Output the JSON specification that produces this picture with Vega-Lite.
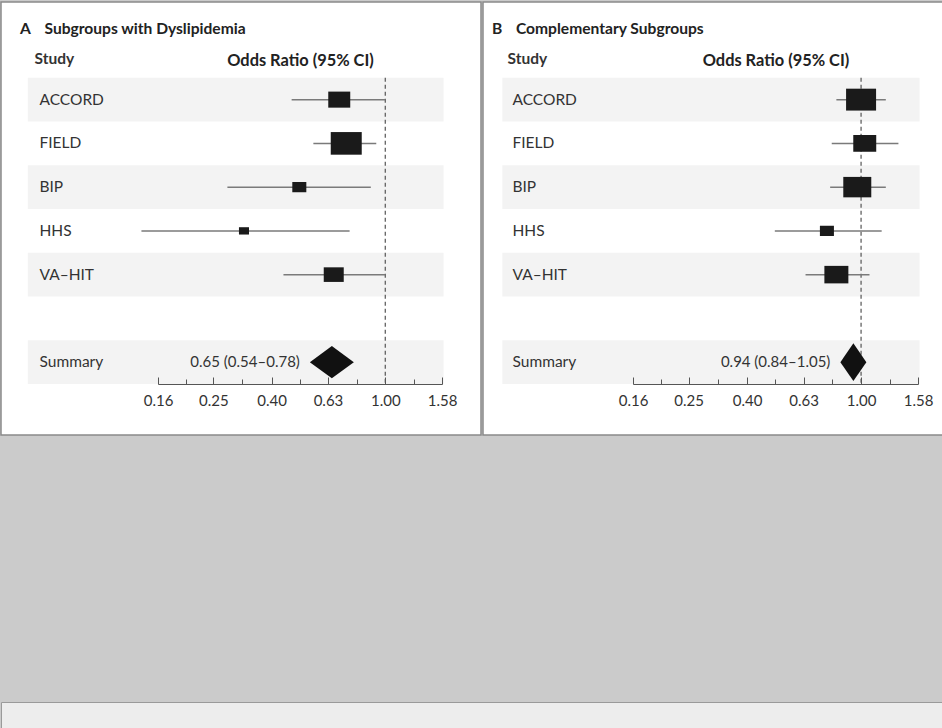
{
  "$schema": "https://vega.github.io/schema/vega-lite/v6.json",
  "background": "#cbcbcb",
  "padding": {"left": 0, "top": 1, "right": 0, "bottom": 0},
  "spacing": 265,
  "config": {
    "font": "Lato",
    "view": {"fill": "white", "stroke": "#8a8a8a", "strokeWidth": 1.5}
  },
  "vconcat": [
    {
      "spacing": 0,
      "resolve": {"scale": {"x": "independent", "y": "independent", "size": "independent"}},
      "hconcat": [
        {
          "width": 480,
          "height": 433,
          "title": {"text": "A\u2003\u2009Subgroups with Dyslipidemia", "anchor": "start", "frame": "group", "offset": -36, "dx": 19, "fontSize": 15.6, "fontWeight": "bold", "color": "#222222", "font": "Lato"},
          "data": {"values": [
            {"study": "ACCORD", "or": 0.69, "lo": 0.47, "hi": 1.00, "weight": 22.6},
            {"study": "FIELD", "or": 0.73, "lo": 0.56, "hi": 0.93, "weight": 44.9},
            {"study": "BIP", "or": 0.50, "lo": 0.28, "hi": 0.89, "weight": 9.2},
            {"study": "HHS", "or": 0.32, "lo": 0.14, "hi": 0.75, "weight": 4.7},
            {"study": "VA–HIT", "or": 0.66, "lo": 0.44, "hi": 1.00, "weight": 18.7},
            {"study": "gap"},
            {"study": "Summary", "or": 0.65, "lo": 0.54, "hi": 0.78, "label": "0.65 (0.54–0.78)"}
          ]},
          "resolve": {"axis": {"x": "independent"}},
          "layer": [
            {
              "transform": [{"filter": {"field": "study", "oneOf": ["ACCORD", "BIP", "VA–HIT", "Summary"]}}],
              "mark": {"type": "bar", "color": "#f3f3f3"},
              "encoding": {
                "y": {"field": "study", "type": "nominal",
                  "scale": {"domain": ["Study", "ACCORD", "FIELD", "BIP", "HHS", "VA–HIT", "gap", "Summary"], "range": [32, 382], "paddingInner": 0, "paddingOuter": 0},
                  "axis": {"orient": "left", "offset": -38, "zindex": 2, "title": null, "domain": false, "ticks": false, "tickSize": 0, "grid": false,
                    "labelAlign": "left", "labelFontSize": 15.5, "labelColor": "#333333", "labelFont": "Lato",
                    "labelExpr": "datum.value === 'gap' ? '' : datum.value",
                    "labelFontWeight": {"condition": {"test": "datum.value === 'Study'", "value": "bold"}, "value": "normal"},
                    "labelPadding": {"condition": {"test": "datum.value === 'Study'", "value": 5}, "value": 0},
                    "labelOffset": {"condition": {"test": "datum.value === 'Study'", "value": 3}, "value": 0}}},
                "x": {"datum": 0.056, "type": "quantitative",
                  "scale": {"type": "log", "domain": [0.16, 1.58], "range": [157, 441], "nice": false, "zero": false},
                  "axis": {"orient": "bottom", "offset": -51, "zindex": 2, "title": null, "grid": false, "domainColor": "#555555", "tickColor": "#555555",
                    "values": [0.16, 0.2, 0.25, 0.316, 0.4, 0.502, 0.63, 0.794, 1.0, 1.257, 1.58],
                    "labelExpr": "indexof([0.16,0.25,0.4,0.63,1,1.58], datum.value) >= 0 ? format(datum.value, '.2f') : ''",
                    "labelOverlap": false, "labelFlush": false, "labelFontSize": 15, "labelColor": "#333333", "labelFont": "Lato", "labelPadding": 16,
                    "tickSize": {"condition": {"test": "indexof([0.16,0.25,0.4,0.63,1,1.58], datum.value) >= 0", "value": -7}, "value": -5}}},
                "x2": {"datum": 1.6}
              }
            },
            {
              "transform": [{"filter": "datum.study === 'Summary'"}],
              "mark": {"type": "rule", "strokeDash": [4, 3], "color": "#555555", "strokeWidth": 1.2},
              "encoding": {
                "x": {"datum": 1, "type": "quantitative", "scale": {"type": "log", "domain": [0.16, 1.58], "range": [157, 441], "nice": false, "zero": false}, "axis": null},
                "y": {"datum": "ACCORD", "type": "nominal", "bandPosition": 0},
                "y2": {"datum": "Summary", "bandPosition": 1}
              }
            },
            {
              "transform": [{"filter": "isValid(datum.lo) && datum.study !== 'Summary'"}],
              "mark": {"type": "rule", "color": "#7a7a7a", "strokeWidth": 1.5},
              "encoding": {
                "x": {"field": "lo", "type": "quantitative", "scale": {"type": "log", "domain": [0.16, 1.58], "range": [157, 441], "nice": false, "zero": false},
                  "axis": {"orient": "top", "offset": -66, "title": "Odds Ratio (95% CI)", "titlePadding": 0, "labels": false, "ticks": false, "domain": false, "grid": false,
                    "titleFontSize": 16.4, "titleFontWeight": "bold", "titleColor": "#222222", "titleFont": "Lato"}},
                "x2": {"field": "hi"},
                "y": {"field": "study", "type": "nominal"}
              }
            },
            {
              "transform": [{"filter": "isValid(datum.weight)"}],
              "mark": {"type": "point", "shape": "M-1,-0.73L1,-0.73L1,0.73L-1,0.73Z", "filled": true, "color": "#1a1a1a", "opacity": 1, "strokeWidth": 0},
              "encoding": {
                "x": {"field": "or", "type": "quantitative", "scale": {"type": "log", "domain": [0.16, 1.58], "range": [157, 441], "nice": false, "zero": false}, "axis": null},
                "y": {"field": "study", "type": "nominal"},
                "size": {"field": "weight", "type": "quantitative", "scale": {"domain": [0, 100], "range": [0, 2140]}, "legend": null}
              }
            },
            {
              "transform": [{"filter": "datum.study === 'Summary'"}],
              "mark": {"type": "point", "shape": "M-1,0L0,-0.73L1,0L0,0.73Z", "size": 1936, "filled": true, "color": "#111111", "opacity": 1, "strokeWidth": 0},
              "encoding": {
                "x": {"field": "or", "type": "quantitative", "scale": {"type": "log", "domain": [0.16, 1.58], "range": [157, 441], "nice": false, "zero": false}, "axis": null},
                "y": {"field": "study", "type": "nominal"}
              }
            },
            {
              "transform": [{"filter": "datum.study === 'Summary'"}],
              "mark": {"type": "text", "align": "right", "dx": -9, "fontSize": 15, "color": "#333333", "font": "Lato"},
              "encoding": {
                "x": {"field": "lo", "type": "quantitative", "scale": {"type": "log", "domain": [0.16, 1.58], "range": [157, 441], "nice": false, "zero": false}, "axis": null},
                "y": {"field": "study", "type": "nominal"},
                "text": {"field": "label"}
              }
            }
          ]
        },
        {
          "width": 460,
          "height": 433,
          "title": {"text": "B\u2003\u2009Complementary Subgroups", "anchor": "start", "frame": "group", "offset": -36, "dx": 9, "fontSize": 15.6, "fontWeight": "bold", "color": "#222222", "font": "Lato"},
          "data": {"values": [
            {"study": "ACCORD", "or": 1.00, "lo": 0.82, "hi": 1.22, "weight": 30.2},
            {"study": "FIELD", "or": 1.03, "lo": 0.79, "hi": 1.35, "weight": 17.7},
            {"study": "BIP", "or": 0.97, "lo": 0.78, "hi": 1.22, "weight": 26.3},
            {"study": "HHS", "or": 0.76, "lo": 0.50, "hi": 1.18, "weight": 6.6},
            {"study": "VA–HIT", "or": 0.82, "lo": 0.64, "hi": 1.07, "weight": 19.3},
            {"study": "gap"},
            {"study": "Summary", "or": 0.94, "lo": 0.84, "hi": 1.05, "label": "0.94 (0.84–1.05)"}
          ]},
          "resolve": {"axis": {"x": "independent"}},
          "layer": [
            {
              "transform": [{"filter": {"field": "study", "oneOf": ["ACCORD", "BIP", "VA–HIT", "Summary"]}}],
              "mark": {"type": "bar", "color": "#f3f3f3"},
              "encoding": {
                "y": {"field": "study", "type": "nominal",
                  "scale": {"domain": ["Study", "ACCORD", "FIELD", "BIP", "HHS", "VA–HIT", "gap", "Summary"], "range": [32, 382], "paddingInner": 0, "paddingOuter": 0},
                  "axis": {"orient": "left", "offset": -29, "zindex": 2, "title": null, "domain": false, "ticks": false, "tickSize": 0, "grid": false,
                    "labelAlign": "left", "labelFontSize": 15.5, "labelColor": "#333333", "labelFont": "Lato",
                    "labelExpr": "datum.value === 'gap' ? '' : datum.value",
                    "labelFontWeight": {"condition": {"test": "datum.value === 'Study'", "value": "bold"}, "value": "normal"},
                    "labelPadding": {"condition": {"test": "datum.value === 'Study'", "value": 5}, "value": 0},
                    "labelOffset": {"condition": {"test": "datum.value === 'Study'", "value": 3}, "value": 0}}},
                "x": {"datum": 0.056, "type": "quantitative",
                  "scale": {"type": "log", "domain": [0.16, 1.58], "range": [150, 435], "nice": false, "zero": false},
                  "axis": {"orient": "bottom", "offset": -51, "zindex": 2, "title": null, "grid": false, "domainColor": "#555555", "tickColor": "#555555",
                    "values": [0.16, 0.2, 0.25, 0.316, 0.4, 0.502, 0.63, 0.794, 1.0, 1.257, 1.58],
                    "labelExpr": "indexof([0.16,0.25,0.4,0.63,1,1.58], datum.value) >= 0 ? format(datum.value, '.2f') : ''",
                    "labelOverlap": false, "labelFlush": false, "labelFontSize": 15, "labelColor": "#333333", "labelFont": "Lato", "labelPadding": 16,
                    "tickSize": {"condition": {"test": "indexof([0.16,0.25,0.4,0.63,1,1.58], datum.value) >= 0", "value": -7}, "value": -5}}},
                "x2": {"datum": 1.6}
              }
            },
            {
              "transform": [{"filter": "datum.study === 'Summary'"}],
              "mark": {"type": "rule", "strokeDash": [4, 3], "color": "#555555", "strokeWidth": 1.2},
              "encoding": {
                "x": {"datum": 1, "type": "quantitative", "scale": {"type": "log", "domain": [0.16, 1.58], "range": [150, 435], "nice": false, "zero": false}, "axis": null},
                "y": {"datum": "ACCORD", "type": "nominal", "bandPosition": 0},
                "y2": {"datum": "Summary", "bandPosition": 1}
              }
            },
            {
              "transform": [{"filter": "isValid(datum.lo) && datum.study !== 'Summary'"}],
              "mark": {"type": "rule", "color": "#7a7a7a", "strokeWidth": 1.5},
              "encoding": {
                "x": {"field": "lo", "type": "quantitative", "scale": {"type": "log", "domain": [0.16, 1.58], "range": [150, 435], "nice": false, "zero": false},
                  "axis": {"orient": "top", "offset": -66, "title": "Odds Ratio (95% CI)", "titlePadding": 0, "labels": false, "ticks": false, "domain": false, "grid": false,
                    "titleFontSize": 16.4, "titleFontWeight": "bold", "titleColor": "#222222", "titleFont": "Lato"}},
                "x2": {"field": "hi"},
                "y": {"field": "study", "type": "nominal"}
              }
            },
            {
              "transform": [{"filter": "isValid(datum.weight)"}],
              "mark": {"type": "point", "shape": "M-1,-0.73L1,-0.73L1,0.73L-1,0.73Z", "filled": true, "color": "#1a1a1a", "opacity": 1, "strokeWidth": 0},
              "encoding": {
                "x": {"field": "or", "type": "quantitative", "scale": {"type": "log", "domain": [0.16, 1.58], "range": [150, 435], "nice": false, "zero": false}, "axis": null},
                "y": {"field": "study", "type": "nominal"},
                "size": {"field": "weight", "type": "quantitative", "scale": {"domain": [0, 100], "range": [0, 2980]}, "legend": null}
              }
            },
            {
              "transform": [{"filter": "datum.study === 'Summary'"}],
              "mark": {"type": "point", "shape": "M-1,0L0,-1.46L1,0L0,1.46Z", "size": 676, "filled": true, "color": "#111111", "opacity": 1, "strokeWidth": 0},
              "encoding": {
                "x": {"field": "or", "type": "quantitative", "scale": {"type": "log", "domain": [0.16, 1.58], "range": [150, 435], "nice": false, "zero": false}, "axis": null},
                "y": {"field": "study", "type": "nominal"}
              }
            },
            {
              "transform": [{"filter": "datum.study === 'Summary'"}],
              "mark": {"type": "text", "align": "right", "dx": -9, "fontSize": 15, "color": "#333333", "font": "Lato"},
              "encoding": {
                "x": {"field": "lo", "type": "quantitative", "scale": {"type": "log", "domain": [0.16, 1.58], "range": [150, 435], "nice": false, "zero": false}, "axis": null},
                "y": {"field": "study", "type": "nominal"},
                "text": {"field": "label"}
              }
            }
          ]
        }
      ]
    },
    {
      "width": 942,
      "height": 28,
      "view": {"fill": "#ededed", "stroke": "#9a9a9a", "strokeWidth": 1},
      "data": {"values": []},
      "mark": "point"
    }
  ]
}
